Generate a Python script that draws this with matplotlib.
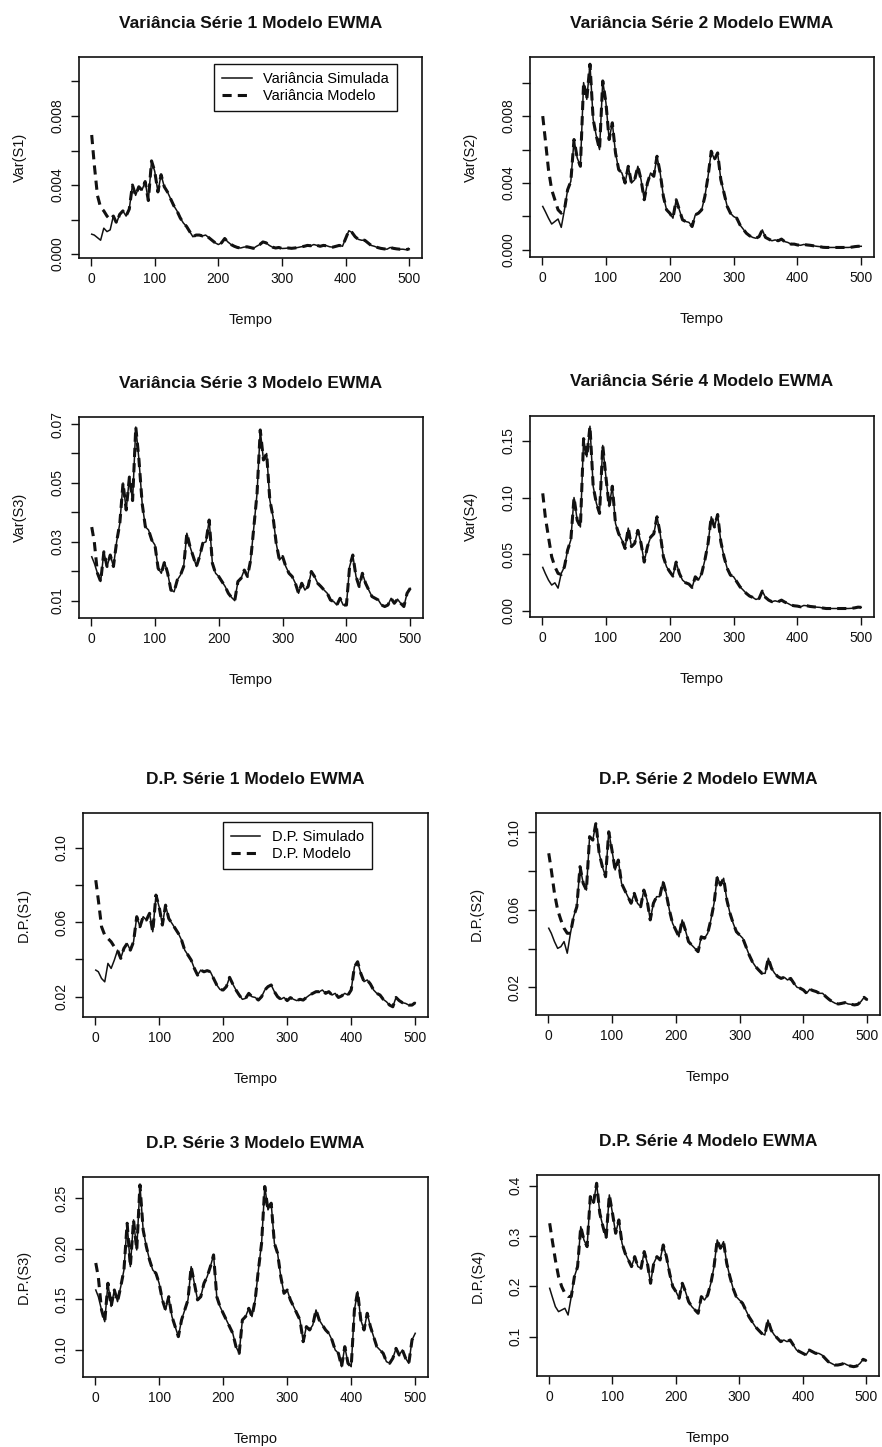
import matplotlib
matplotlib.use('Agg')
import matplotlib.pyplot as plt
from matplotlib.transforms import ScaledTranslation

plt.rcParams['font.family'] = ['Liberation Sans', 'DejaVu Sans']

# ---------------- data ----------------
tempo = [1] + list(range(5, 501, 5))

var_s1 = [v * 1e-3 for v in [
    1.15, 1.1, 0.95, 0.8, 1.5, 1.3, 1.4, 2.2, 1.8, 2.3,
    2.5, 2.2, 2.6, 4.0, 3.4, 3.9, 3.7, 4.2, 3.1, 5.4,
    4.8, 3.6, 4.6, 3.9, 3.6, 3.2, 2.8, 2.5, 2.1, 1.8,
    1.6, 1.3, 1.0, 1.1, 1.1, 1.05, 1.1, 0.95, 0.8, 0.65,
    0.55, 0.65, 0.9, 0.7, 0.55, 0.45, 0.38, 0.35, 0.4, 0.42,
    0.38, 0.33, 0.45, 0.55, 0.7, 0.65, 0.5, 0.4, 0.35, 0.38,
    0.32, 0.33, 0.35, 0.33, 0.35, 0.38, 0.42, 0.45, 0.5, 0.48,
    0.55, 0.5, 0.45, 0.5, 0.48, 0.42, 0.4, 0.45, 0.5, 0.45,
    0.9, 1.35, 1.25, 1.0, 0.85, 0.8, 0.8, 0.65, 0.5, 0.45,
    0.38, 0.33, 0.3, 0.28, 0.38, 0.33, 0.3, 0.28, 0.28, 0.25, 0.3]]
var_s1_modelo = [0.0069, 0.0052, 0.0034, 0.0027, 0.0025, 0.0022, 0.0020, 0.0022]

var_s2 = [v * 1e-3 for v in [
    2.6, 2.3, 1.9, 1.55, 1.7, 1.85, 1.35, 2.4, 3.6, 4.1,
    6.6, 5.5, 5.0, 10.0, 9.0, 11.1, 7.8, 6.8, 6.0, 10.1,
    8.8, 6.6, 7.6, 5.8, 4.8, 4.6, 4.0, 5.0, 4.0, 4.2,
    5.0, 4.2, 3.0, 4.0, 4.6, 4.4, 5.6, 4.6, 3.2, 2.4,
    2.2, 1.9, 3.0, 2.4, 1.8, 1.7, 1.65, 1.4, 2.1, 2.2,
    2.4, 3.2, 4.4, 5.9, 5.4, 5.8, 4.2, 3.4, 2.6, 2.2,
    2.0, 1.9, 1.5, 1.25, 1.0, 0.85, 0.75, 0.7, 0.8, 1.2,
    0.75, 0.65, 0.55, 0.6, 0.55, 0.65, 0.5, 0.45, 0.35, 0.35,
    0.3, 0.28, 0.33, 0.3, 0.28, 0.25, 0.22, 0.2, 0.16, 0.15,
    0.15, 0.15, 0.15, 0.15, 0.15, 0.15, 0.15, 0.17, 0.2, 0.22, 0.22]]
var_s2_modelo = [0.0080, 0.0066, 0.0048, 0.0036, 0.0030, 0.0024, 0.0022, 0.0024]

var_s3 = [
    0.0249, 0.0227, 0.0193, 0.0165, 0.0266, 0.0216, 0.0255, 0.0216, 0.0300, 0.0363,
    0.0500, 0.0408, 0.0520, 0.0440, 0.0690, 0.0578, 0.0430, 0.0351, 0.0340, 0.0306,
    0.0289, 0.0210, 0.0193, 0.0232, 0.0193, 0.0136, 0.0130, 0.0170, 0.0187, 0.0216,
    0.0329, 0.0283, 0.0250, 0.0216, 0.0250, 0.0295, 0.0300, 0.0374, 0.0227, 0.0193,
    0.0182, 0.0165, 0.0148, 0.0125, 0.0111, 0.0100, 0.0165, 0.0176, 0.0204, 0.0182,
    0.0238, 0.0351, 0.0465, 0.0680, 0.0578, 0.0600, 0.0442, 0.0385, 0.0295, 0.0238,
    0.0250, 0.0216, 0.0193, 0.0182, 0.0159, 0.0125, 0.0159, 0.0136, 0.0148, 0.0199,
    0.0182, 0.0159, 0.0148, 0.0136, 0.0125, 0.0102, 0.0097, 0.0085, 0.0108, 0.0085,
    0.0085, 0.0216, 0.0255, 0.0182, 0.0148, 0.0193, 0.0159, 0.0136, 0.0114, 0.0108,
    0.0102, 0.0085, 0.0080, 0.0085, 0.0108, 0.0091, 0.0105, 0.0091, 0.0080, 0.0125, 0.0142]
var_s3_modelo = [0.0350, 0.0300, 0.0193]

var_s4 = [
    0.0383, 0.0330, 0.0271, 0.0227, 0.0247, 0.0200, 0.0330, 0.0389, 0.0536, 0.0625,
    0.1000, 0.0800, 0.0740, 0.1520, 0.1360, 0.1630, 0.1100, 0.0950, 0.0860, 0.1460,
    0.1180, 0.0920, 0.1100, 0.0770, 0.0680, 0.0625, 0.0550, 0.0730, 0.0566, 0.0595,
    0.0710, 0.0595, 0.0430, 0.0566, 0.0650, 0.0680, 0.0830, 0.0680, 0.0477, 0.0389,
    0.0345, 0.0306, 0.0430, 0.0330, 0.0271, 0.0247, 0.0236, 0.0206, 0.0300, 0.0271,
    0.0330, 0.0448, 0.0595, 0.0830, 0.0740, 0.0850, 0.0610, 0.0477, 0.0374, 0.0315,
    0.0300, 0.0256, 0.0212, 0.0183, 0.0153, 0.0130, 0.0118, 0.0100, 0.0109, 0.0174,
    0.0118, 0.0094, 0.0080, 0.0088, 0.0080, 0.0094, 0.0077, 0.0065, 0.0050, 0.0044,
    0.0041, 0.0035, 0.0047, 0.0044, 0.0038, 0.0035, 0.0032, 0.0030, 0.0024, 0.0020,
    0.0020, 0.0020, 0.0020, 0.0020, 0.0020, 0.0020, 0.0020, 0.0022, 0.0026, 0.0032, 0.0030]
var_s4_modelo = [0.1037, 0.0830, 0.0650, 0.0477, 0.0389, 0.0330, 0.0320, 0.0389]

dp_s1 = [
    0.0343, 0.0334, 0.0298, 0.0280, 0.0379, 0.0352, 0.0397, 0.0450, 0.0406, 0.0460,
    0.0486, 0.0450, 0.0495, 0.0630, 0.0576, 0.0630, 0.0612, 0.0648, 0.0549, 0.0746,
    0.0683, 0.0585, 0.0692, 0.0620, 0.0594, 0.0567, 0.0540, 0.0504, 0.0450, 0.0424,
    0.0397, 0.0352, 0.0316, 0.0343, 0.0334, 0.0340, 0.0334, 0.0298, 0.0263, 0.0239,
    0.0236, 0.0254, 0.0304, 0.0268, 0.0236, 0.0209, 0.0186, 0.0191, 0.0218, 0.0200,
    0.0196, 0.0182, 0.0200, 0.0236, 0.0254, 0.0263, 0.0227, 0.0200, 0.0186, 0.0196,
    0.0179, 0.0195, 0.0186, 0.0179, 0.0186, 0.0182, 0.0196, 0.0209, 0.0218, 0.0227,
    0.0227, 0.0236, 0.0218, 0.0227, 0.0209, 0.0218, 0.0196, 0.0204, 0.0218, 0.0209,
    0.0236, 0.0361, 0.0388, 0.0325, 0.0281, 0.0290, 0.0268, 0.0236, 0.0218, 0.0209,
    0.0186, 0.0173, 0.0155, 0.0146, 0.0196, 0.0179, 0.0168, 0.0164, 0.0155, 0.0155, 0.0168]
dp_s1_modelo = [0.0826, 0.0719, 0.0576, 0.0531, 0.0513, 0.0495, 0.0468, 0.0450]

dp_s2 = [
    0.0505, 0.0479, 0.0436, 0.0401, 0.0410, 0.0436, 0.0376, 0.0479, 0.0565, 0.0616,
    0.0823, 0.0737, 0.0702, 0.0978, 0.0960, 0.1050, 0.0892, 0.0823, 0.0771, 0.1003,
    0.0909, 0.0806, 0.0857, 0.0737, 0.0702, 0.0668, 0.0634, 0.0685, 0.0634, 0.0616,
    0.0702, 0.0651, 0.0548, 0.0634, 0.0668, 0.0668, 0.0746, 0.0685, 0.0599, 0.0530,
    0.0496, 0.0461, 0.0548, 0.0496, 0.0436, 0.0418, 0.0401, 0.0384, 0.0461, 0.0453,
    0.0479, 0.0548, 0.0634, 0.0771, 0.0728, 0.0763, 0.0651, 0.0582, 0.0530, 0.0487,
    0.0470, 0.0453, 0.0410, 0.0367, 0.0332, 0.0307, 0.0289, 0.0272, 0.0272, 0.0350,
    0.0298, 0.0272, 0.0255, 0.0246, 0.0252, 0.0238, 0.0246, 0.0221, 0.0200, 0.0195,
    0.0186, 0.0169, 0.0190, 0.0183, 0.0178, 0.0169, 0.0169, 0.0152, 0.0138, 0.0126,
    0.0117, 0.0114, 0.0117, 0.0121, 0.0114, 0.0112, 0.0109, 0.0112, 0.0126, 0.0148, 0.0135]
dp_s2_modelo = [0.0892, 0.0806, 0.0685, 0.0599, 0.0548, 0.0505, 0.0479, 0.0479]

dp_s3 = [
    0.1593, 0.1527, 0.1396, 0.1280, 0.1660, 0.1430, 0.1593, 0.1478, 0.1626, 0.1791,
    0.2253, 0.1824, 0.2286, 0.1989, 0.2632, 0.2187, 0.2022, 0.1890, 0.1791, 0.1758,
    0.1659, 0.1495, 0.1396, 0.1527, 0.1330, 0.1231, 0.1132, 0.1297, 0.1396, 0.1495,
    0.1824, 0.1659, 0.1495, 0.1527, 0.1659, 0.1725, 0.1824, 0.1940, 0.1527, 0.1430,
    0.1363, 0.1297, 0.1231, 0.1165, 0.1033, 0.0967, 0.1297, 0.1330, 0.1412, 0.1330,
    0.1495, 0.1791, 0.2055, 0.2616, 0.2385, 0.2451, 0.2055, 0.1956, 0.1725, 0.1560,
    0.1593, 0.1495, 0.1430, 0.1363, 0.1297, 0.1082, 0.1231, 0.1198, 0.1247, 0.1396,
    0.1297, 0.1247, 0.1198, 0.1165, 0.1099, 0.1000, 0.0967, 0.0835, 0.1033, 0.0868,
    0.0835, 0.1396, 0.1577, 0.1297, 0.1198, 0.1363, 0.1231, 0.1132, 0.1033, 0.1000,
    0.0967, 0.0885, 0.0868, 0.0918, 0.1016, 0.0950, 0.1000, 0.0918, 0.0868, 0.1099, 0.1165]
dp_s3_modelo = [0.1860, 0.1720, 0.1396]

dp_s4 = [
    0.1960, 0.1795, 0.1596, 0.1497, 0.1530, 0.1563, 0.1430, 0.1795, 0.2192, 0.2391,
    0.3185, 0.2921, 0.2788, 0.3781, 0.3649, 0.4046, 0.3450, 0.3185, 0.2954, 0.3815,
    0.3450, 0.3053, 0.3318, 0.2854, 0.2656, 0.2523, 0.2391, 0.2589, 0.2391, 0.2358,
    0.2689, 0.2457, 0.2060, 0.2457, 0.2589, 0.2523, 0.2821, 0.2589, 0.2258, 0.1993,
    0.1894, 0.1762, 0.2060, 0.1894, 0.1695, 0.1596, 0.1530, 0.1464, 0.1795, 0.1728,
    0.1828, 0.2060, 0.2391, 0.2921, 0.2755, 0.2887, 0.2457, 0.2192, 0.1960, 0.1795,
    0.1728, 0.1662, 0.1530, 0.1397, 0.1298, 0.1199, 0.1132, 0.1066, 0.1033, 0.1331,
    0.1132, 0.1033, 0.0967, 0.0901, 0.0934, 0.0901, 0.0934, 0.0834, 0.0735, 0.0702,
    0.0669, 0.0636, 0.0735, 0.0702, 0.0669, 0.0669, 0.0636, 0.0570, 0.0503, 0.0470,
    0.0437, 0.0437, 0.0450, 0.0470, 0.0437, 0.0417, 0.0404, 0.0417, 0.0470, 0.0550, 0.0523]
dp_s4_modelo = [0.3252, 0.2921, 0.2523, 0.2192, 0.1993, 0.1861, 0.1800, 0.1795]

titulos = ["Variância Série 1 Modelo EWMA", "Variância Série 2 Modelo EWMA",
           "Variância Série 3 Modelo EWMA", "Variância Série 4 Modelo EWMA",
           "D.P. Série 1 Modelo EWMA", "D.P. Série 2 Modelo EWMA",
           "D.P. Série 3 Modelo EWMA", "D.P. Série 4 Modelo EWMA"]
ylabels = ["Var(S1)", "Var(S2)", "Var(S3)", "Var(S4)",
           "D.P.(S1)", "D.P.(S2)", "D.P.(S3)", "D.P.(S4)"]
x_ticks = [0, 100, 200, 300, 400, 500]

y_ticks = [
    ([0.000, 0.002, 0.004, 0.006, 0.008, 0.010], ["0.000", "", "0.004", "", "0.008", ""]),
    ([0.000, 0.002, 0.004, 0.006, 0.008, 0.010], ["0.000", "", "0.004", "", "0.008", ""]),
    ([0.01, 0.02, 0.03, 0.04, 0.05, 0.06, 0.07], ["0.01", "", "0.03", "", "0.05", "", "0.07"]),
    ([0.00, 0.05, 0.10, 0.15], ["0.00", "0.05", "0.10", "0.15"]),
    ([0.02, 0.04, 0.06, 0.08, 0.10], ["0.02", "", "0.06", "", "0.10"]),
    ([0.02, 0.04, 0.06, 0.08, 0.10], ["0.02", "", "0.06", "", "0.10"]),
    ([0.10, 0.15, 0.20, 0.25], ["0.10", "0.15", "0.20", "0.25"]),
    ([0.1, 0.2, 0.3, 0.4], ["0.1", "0.2", "0.3", "0.4"]),
]
series = [(var_s1, var_s1_modelo), (var_s2, var_s2_modelo),
          (var_s3, var_s3_modelo), (var_s4, var_s4_modelo),
          (dp_s1, dp_s1_modelo), (dp_s2, dp_s2_modelo),
          (dp_s3, dp_s3_modelo), (dp_s4, dp_s4_modelo)]
legendas = {0: ["Variância Simulada", "Variância Modelo"],
            4: ["D.P. Simulado", "D.P. Modelo"]}

# ---------------- layout ----------------
W, H = 882, 1447
# axes boxes in pixels: (left, top, right, bottom)
boxes = [(79, 57, 422, 258), (530, 57, 874, 257),
         (79, 417, 423, 618), (530, 416, 874, 617),
         (83, 813, 428, 1017), (536, 813, 880, 1015),
         (83, 1177, 428, 1377), (537, 1175, 879, 1376)]
ylims = [(-0.00023, 0.01142), (-0.00042, 0.01153), (0.0041, 0.0724), (-0.0055, 0.172),
         (0.0091, 0.1187), (0.0057, 0.110), (0.0733, 0.271), (0.0219, 0.421)]
legend_anchor = {0: (397, 64), 4: (372, 822)}
xlim = (1 - 0.04 * 499, 500 + 0.04 * 499)

fig = plt.figure(figsize=(W / 100, H / 100), dpi=100)
fig.patch.set_facecolor('white')
ink = '#111111'

for i in range(8):
    l, t, r, b = boxes[i]
    ax = fig.add_axes([l / W, 1 - b / H, (r - l) / W, (b - t) / H])
    sim, mod = series[i]
    mod_full = list(mod) + list(sim[len(mod):])
    h1, = ax.plot(tempo, sim, color=ink, lw=1.1)
    h2, = ax.plot(tempo, mod_full, color=ink, lw=2.2, ls=(0, (3, 2)))
    ax.set_xlim(*xlim)
    ax.set_ylim(*ylims[i])
    ax.set_xticks(x_ticks)
    ax.set_xticklabels([str(v) for v in x_ticks])
    ax.set_yticks(y_ticks[i][0])
    ax.set_yticklabels(y_ticks[i][1])
    for lab in ax.get_yticklabels():
        lab.set_rotation(90)
        lab.set_va('center')
    ax.tick_params(direction='out', length=5.8, width=1.0, pad=4.5, labelsize=10,
                   color=ink, labelcolor=ink)
    for s in ax.spines.values():
        s.set_linewidth(1.2)
        s.set_color(ink)
    tr = fig.dpi_scale_trans
    ax.text(0.5, 1, titulos[i], transform=ax.transAxes + ScaledTranslation(0, 0.34, tr),
            ha='center', va='center', fontsize=12.5, fontweight='bold', color=ink)
    ax.text(0.5, 0, "Tempo", transform=ax.transAxes + ScaledTranslation(0, -0.62, tr),
            ha='center', va='center', fontsize=10.5, color=ink)
    ax.text(0, 0.5, ylabels[i], transform=ax.transAxes + ScaledTranslation(-0.59, 0, tr),
            ha='center', va='center', rotation=90, fontsize=10.5, color=ink)
    if i in legendas:
        ax_px, ay_px = legend_anchor[i]
        bx = (ax_px - l) / (r - l)
        by = 1 - (ay_px - t) / (b - t)
        leg = ax.legend([h1, h2], legendas[i], loc='upper right', bbox_to_anchor=(bx, by),
                        borderaxespad=0, fancybox=False, edgecolor=ink, framealpha=1,
                        fontsize=10.5, handlelength=2.0, handletextpad=0.8,
                        labelspacing=0.2, borderpad=0.55)
        leg.get_frame().set_linewidth(1.0)

fig.savefig('out.png', dpi=100, facecolor='white')
